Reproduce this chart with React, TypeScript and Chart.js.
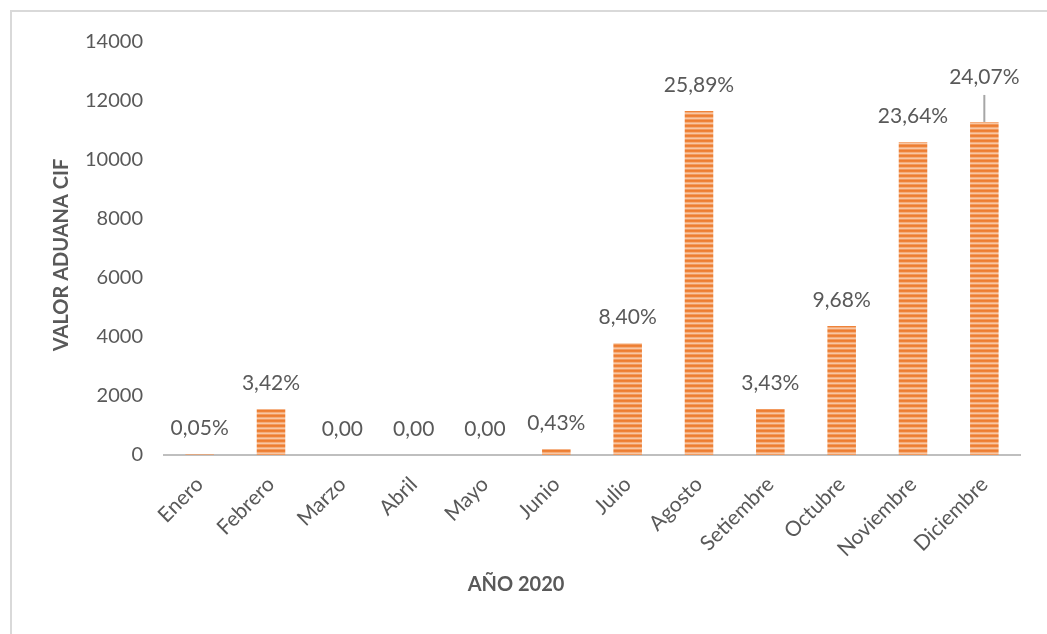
import React, { useEffect, useRef } from "react";
import { Chart, registerables } from "chart.js";

Chart.register(...registerables);

const months = ["Enero", "Febrero", "Marzo", "Abril", "Mayo", "Junio", "Julio", "Agosto", "Setiembre", "Octubre", "Noviembre", "Diciembre"];
const values = [22, 1550, 0, 0, 0, 195, 3790, 11660, 1560, 4370, 10610, 11290];
const shareLabels = ["0,05%", "3,42%", "0,00", "0,00", "0,00", "0,43%", "8,40%", "25,89%", "3,43%", "9,68%", "23,64%", "24,07%"];
const yTitle = "VALOR ADUANA CIF";
const xTitle = "AÑO 2020";

const FONT = "Lato, 'Open Sans', sans-serif";
const TEXT = "#595959";

function makePattern(): CanvasPattern | string {
  const c = document.createElement("canvas");
  c.width = 4;
  c.height = 5;
  const g = c.getContext("2d");
  if (!g) return "#ED7D31";
  const rows = ["#ED7D31", "#EE8339", "#F5AD7C", "#F8C7A4", "#F29A5E"];
  rows.forEach((col, i) => {
    g.fillStyle = col;
    g.fillRect(0, i, 4, 1);
  });
  return g.createPattern(c, "repeat") || "#ED7D31";
}

const decorPlugin = {
  id: "decor",
  beforeDraw(chart: any) {
    const ctx = chart.ctx;
    ctx.save();
    ctx.fillStyle = "#ffffff";
    ctx.fillRect(0, 0, chart.width, chart.height);
    ctx.strokeStyle = "#D9D9D9";
    ctx.lineWidth = 2;
    ctx.strokeRect(11, 11, 3000, 3000);
    ctx.restore();
  },
  afterDraw(chart: any) {
    const ctx = chart.ctx;
    const meta = chart.getDatasetMeta(0);
    ctx.save();
    ctx.fillStyle = TEXT;
    ctx.font = `21px ${FONT}`;
    ctx.textAlign = "center";
    ctx.textBaseline = "middle";
    meta.data.forEach((bar: any, i: number) => {
      const x = bar.x;
      const y = bar.y;
      if (i === months.length - 1) {
        ctx.fillText(shareLabels[i], x, y - 45);
        ctx.strokeStyle = "#A6A6A6";
        ctx.lineWidth = 2;
        ctx.beginPath();
        ctx.moveTo(x, y - 27);
        ctx.lineTo(x, y);
        ctx.stroke();
      } else {
        ctx.fillText(shareLabels[i], x, y - 26);
      }
    });
    ctx.font = `bold 20px ${FONT}`;
    ctx.fillText(xTitle, 516, 585);
    ctx.translate(62, 255);
    ctx.rotate(-Math.PI / 2);
    ctx.fillText(yTitle, 0, 0);
    ctx.restore();
  },
};

export default function App() {
  const ref = useRef<HTMLCanvasElement | null>(null);
  useEffect(() => {
    if (!ref.current) return;
    const pattern = makePattern();
    const chart = new Chart(ref.current, {
      type: "bar",
      data: {
        labels: months,
        datasets: [
          {
            data: values,
            backgroundColor: pattern as any,
            borderWidth: 0,
            barPercentage: 0.4,
            categoryPercentage: 1,
          },
        ],
      },
      options: {
        responsive: false,
        animation: false,
        layout: { padding: { top: 42, right: 27, left: 0, bottom: 0 } },
        plugins: { legend: { display: false }, tooltip: { enabled: false } },
        scales: {
          x: {
            grid: { display: false, drawTicks: false },
            border: { display: true, color: "#BFBFBF", width: 2 },
            ticks: {
              color: TEXT,
              font: { family: FONT, size: 21 },
              minRotation: 45,
              maxRotation: 45,
              autoSkip: false,
              padding: 17,
            },
            afterFit(scale: any) {
              scale.height = 179;
            },
          },
          y: {
            min: 0,
            max: 14000,
            grid: { display: false, drawTicks: false },
            border: { display: false },
            ticks: {
              stepSize: 2000,
              color: TEXT,
              font: { family: FONT, size: 20 },
              padding: 21,
              callback: (v: any) => String(v),
            },
            afterFit(scale: any) {
              scale.width = 164;
            },
          },
        },
      },
      plugins: [decorPlugin],
    });
    return () => chart.destroy();
  }, []);
  return (
    <div style={{ position: "fixed", left: 0, top: 0, width: 1047, height: 634, background: "#fff" }}>
      <canvas ref={ref} width={1047} height={634} style={{ width: 1047, height: 634 }} />
    </div>
  );
}
